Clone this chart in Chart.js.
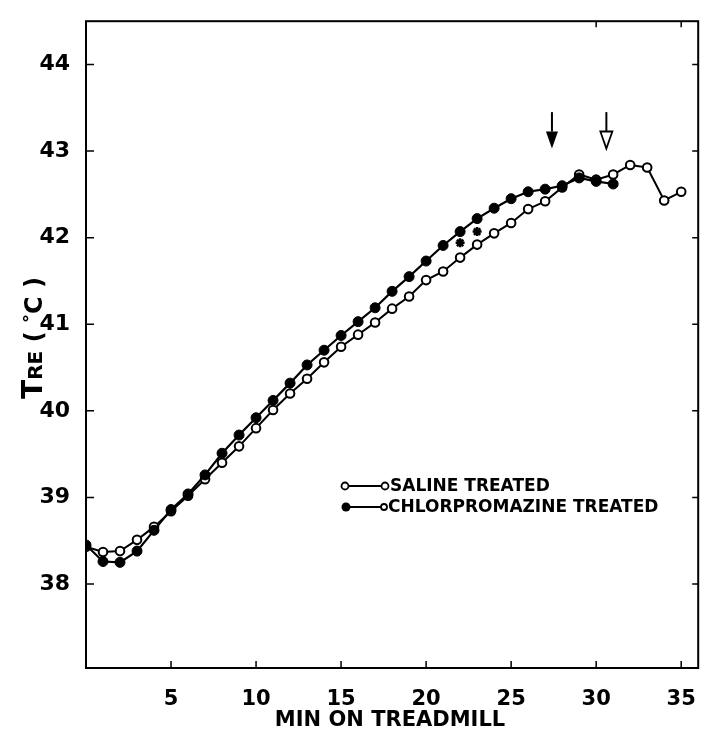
<!DOCTYPE html>
<html>
<head>
<meta charset="utf-8">
<script src="https://cdn.jsdelivr.net/npm/chart.js@4"></script>
<style>
  html,body{margin:0;padding:0;background:#fff;}
  #wrap{width:707px;height:734px;}
</style>
</head>
<body>
<div id="wrap"><canvas id="chart" width="707" height="734"></canvas></div>
<script>
// minutes on treadmill
const minutes = [0,1,2,3,4,5,6,7,8,9,10,11,12,13,14,15,16,17,18,19,20,21,22,23,24,25,26,27,28,29,30,31,32,33,34,35];
// rectal temperature, saline treated (open circles)
const saline = [38.43,38.37,38.38,38.51,38.66,38.84,39.02,39.21,39.40,39.59,39.80,40.01,40.20,40.37,40.56,40.74,40.88,41.02,41.18,41.32,41.51,41.61,41.77,41.92,42.05,42.17,42.33,42.42,42.58,42.73,42.67,42.73,42.84,42.81,42.43,42.53];
// rectal temperature, chlorpromazine treated (filled circles), 0..31 min
const cpz = [38.45,38.26,38.25,38.38,38.62,38.86,39.04,39.26,39.51,39.72,39.92,40.12,40.32,40.53,40.70,40.87,41.03,41.19,41.38,41.55,41.73,41.91,42.07,42.22,42.34,42.45,42.53,42.56,42.60,42.69,42.65,42.62];
// significance marks
const sigMinutes = [22,23];
const sigValues = [41.94,42.07];
// arrows (filled = chlorpromazine, open = saline)
const arrowMinutes = [27.4,30.6];
const arrowFilled = [true,false];
const arrowTop = 43.45, arrowTip = 43.03;

const xTicks = [5,10,15,20,25,30,35];
const yTicks = [38,39,40,41,42,43,44];

const FONT = '"DejaVu Sans", Verdana, sans-serif';

function pts(xs, ys){ return ys.map((v,i)=>({x:xs[i], y:v})); }

const framePlugin = {
  id:'frame',
  afterDraw(chart){
    const {ctx, chartArea:a, scales:{x, y}} = chart;
    ctx.save();
    ctx.strokeStyle = '#000';
    ctx.lineWidth = 2;
    ctx.strokeRect(a.left, a.top, a.right-a.left, a.bottom-a.top);
    ctx.lineWidth = 1.5;
    ctx.beginPath();
    xTicks.forEach(t=>{
      const px = x.getPixelForValue(t);
      ctx.moveTo(px, a.bottom); ctx.lineTo(px, a.bottom-7);
    });
    [30,35].forEach(t=>{
      const px = x.getPixelForValue(t);
      ctx.moveTo(px, a.top); ctx.lineTo(px, a.top+6);
    });
    yTicks.forEach(t=>{
      const py = y.getPixelForValue(t);
      ctx.moveTo(a.left, py); ctx.lineTo(a.left+8, py);
      ctx.moveTo(a.right, py); ctx.lineTo(a.right-6, py);
    });
    ctx.stroke();

    // arrows
    arrowMinutes.forEach((m,i)=>{
      const px = x.getPixelForValue(m);
      const top = y.getPixelForValue(arrowTop);
      const tip = y.getPixelForValue(arrowTip);
      const headH = 17;
      ctx.lineWidth = 2;
      ctx.beginPath();
      ctx.moveTo(px, top); ctx.lineTo(px, tip-headH);
      ctx.stroke();
      ctx.beginPath();
      ctx.moveTo(px-6, tip-headH); ctx.lineTo(px+6, tip-headH); ctx.lineTo(px, tip); ctx.closePath();
      if(arrowFilled[i]){ ctx.fillStyle='#000'; ctx.fill(); }
      else { ctx.fillStyle='#fff'; ctx.fill(); ctx.lineWidth=1.8; ctx.stroke(); }
    });

    // legend
    const lx = 345, ly1 = 486, ly2 = 507;
    ctx.lineWidth = 1.8;
    ctx.beginPath(); ctx.moveTo(lx, ly1); ctx.lineTo(lx+40, ly1); ctx.stroke();
    ctx.beginPath(); ctx.arc(lx, ly1, 3.5, 0, Math.PI*2); ctx.fillStyle='#fff'; ctx.fill(); ctx.stroke();
    ctx.beginPath(); ctx.arc(lx+40, ly1, 3.5, 0, Math.PI*2); ctx.fill(); ctx.stroke();
    ctx.beginPath(); ctx.moveTo(lx, ly2); ctx.lineTo(lx+38, ly2); ctx.stroke();
    ctx.beginPath(); ctx.arc(lx+1, ly2, 4.5, 0, Math.PI*2); ctx.fillStyle='#000'; ctx.fill();
    ctx.beginPath(); ctx.arc(lx+39, ly2, 3, 0, Math.PI*2); ctx.fillStyle='#fff'; ctx.fill(); ctx.stroke();
    ctx.fillStyle = '#000';
    ctx.font = 'bold 17px ' + FONT;
    ctx.textBaseline = 'middle';
    ctx.textAlign = 'left';
    ctx.fillText('SALINE TREATED', lx+45, ly1+1);
    ctx.fillText('CHLORPROMAZINE TREATED', lx+43, ly2+1);

    // x axis title
    ctx.font = 'bold 21px ' + FONT;
    ctx.textAlign = 'center';
    ctx.textBaseline = 'middle';
    ctx.fillText('MIN ON TREADMILL', 390, 721);

    // y axis title: T(RE) ( °C )
    ctx.save();
    ctx.translate(42, 338);
    ctx.rotate(-Math.PI/2);
    ctx.textAlign = 'left';
    ctx.textBaseline = 'alphabetic';
    const parts = [['T', 'bold 28px '], ['RE', 'bold 20px '], [' ( ', 'bold 24px '], ['°', 'bold 18px '], ['C )', 'bold 24px ']];
    let w = 0;
    parts.forEach(p=>{ ctx.font = p[1]+FONT; w += ctx.measureText(p[0]).width; });
    let cx = -w/2;
    parts.forEach(p=>{
      ctx.font = p[1]+FONT;
      const dy = p[0]==='°' ? -6 : 0;
      ctx.fillText(p[0], cx, dy);
      cx += ctx.measureText(p[0]).width;
    });
    ctx.restore();
    ctx.restore();
  }
};

new Chart(document.getElementById('chart'), {
  type:'line',
  data:{
    datasets:[
      {
        label:'SALINE TREATED',
        data: pts(minutes, saline),
        borderColor:'#000', borderWidth:2,
        pointRadius:4.3, pointBackgroundColor:'#fff', pointBorderColor:'#000', pointBorderWidth:2,
        tension:0, order:2
      },
      {
        label:'CHLORPROMAZINE TREATED',
        data: pts(minutes, cpz),
        borderColor:'#000', borderWidth:2.2,
        pointRadius:5, pointBackgroundColor:'#000', pointBorderColor:'#000', pointBorderWidth:1,
        tension:0, order:1
      },
      {
        label:'sig',
        data: pts(sigMinutes, sigValues),
        showLine:false,
        pointStyle:'star', pointRadius:4.5, pointBorderColor:'#000', pointBorderWidth:2.5,
        order:0
      }
    ]
  },
  options:{
    responsive:false,
    animation:false,
    layout:{ padding:{ top:13, right:2, left:0, bottom:0 } },
    plugins:{ legend:{display:false}, tooltip:{enabled:false} },
    scales:{
      x:{
        type:'linear', min:0, max:36,
        grid:{display:false}, border:{display:false},
        afterBuildTicks(s){ s.ticks = xTicks.map(v=>({value:v})); },
        afterFit(s){ s.height = 66; },
        ticks:{ color:'#000', font:{family:FONT, size:21, weight:'bold'}, padding:11, maxRotation:0 }
      },
      y:{
        type:'linear', min:37.03, max:44.5,
        grid:{display:false}, border:{display:false},
        afterBuildTicks(s){ s.ticks = yTicks.map(v=>({value:v})); },
        afterFit(s){ s.width = 86; },
        ticks:{ color:'#000', font:{family:FONT, size:22, weight:'bold'}, padding:8 }
      }
    }
  },
  plugins:[framePlugin]
});
</script>
</body>
</html>
